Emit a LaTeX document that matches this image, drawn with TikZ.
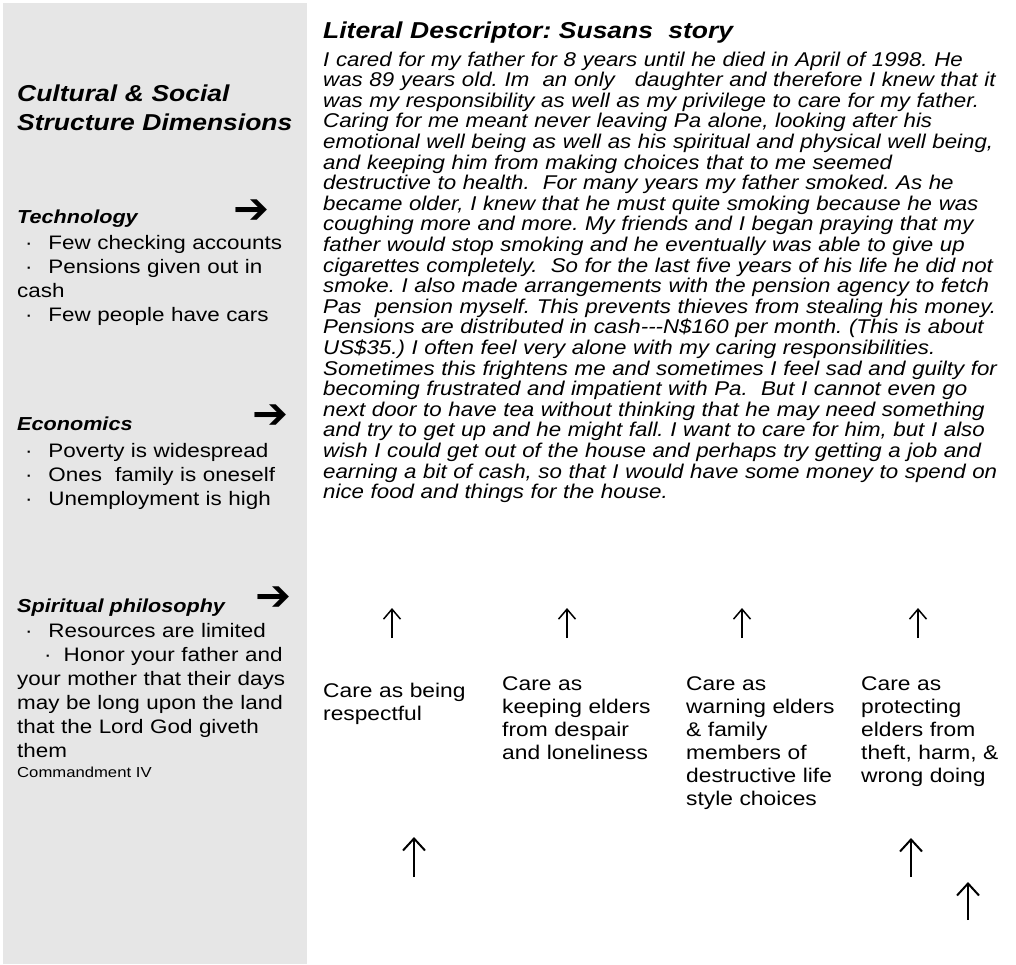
\documentclass[tikz,border=0pt]{standalone}
\usepackage{fontspec}
\setmainfont[FakeStretch=1.15]{Liberation Sans}
\newfontfamily\storyfont[FakeStretch=1.12]{Liberation Sans}
\newfontfamily\arrowfont{DejaVu Sans}
\usetikzlibrary{arrows.meta}
\definecolor{panelgray}{HTML}{E6E6E6}
\frenchspacing
\tikzset{
  paneltitle/.style={anchor=base west,inner sep=0pt,align=left,text width=420pt,
    font=\bfseries\itshape\fontsize{23}{29}\selectfont},
  dimhead/.style={anchor=base west,inner sep=0pt,
    font=\bfseries\itshape\fontsize{18.8}{22}\selectfont},
  dimlist/.style={anchor=base west,inner sep=0pt,align=left,text width=290pt,
    font=\fontsize{19.5}{24}\selectfont},
  storytext/.style={anchor=base west,inner sep=0pt,align=left,text width=700pt,
    font=\storyfont\itshape\fontsize{19.9}{20.6}\selectfont},
  carelabel/.style={anchor=base west,inner sep=0pt,align=left,text width=170pt,
    font=\fontsize{19.8}{23}\selectfont},
  bigarrow/.style={inner sep=0pt,font=\arrowfont\bfseries\fontsize{43}{43}\selectfont},
  uparrow/.style={-{Straight Barb[length=10pt,width=17pt]},line width=1.5pt}
}
\newcommand{\dimitem}{\hspace*{8pt}·\hspace*{15.8pt}}

\begin{document}
\begin{tikzpicture}[x=1pt,y=-1pt]
  \useasboundingbox (0,0) rectangle (1016,964);
  \fill[panelgray] (3,3) rectangle (307,964);

  % left panel
  \node[paneltitle] (dimtitle) at (17,101) {Cultural \& Social\\Structure Dimensions};

  \node[dimhead] (tech) at (17,223) {Technology};
  \node[bigarrow] (techarrow) at (252,212) {➔};
  \node[dimlist] (techlist) at (17,249)
    {\dimitem Few checking accounts\\
     \dimitem Pensions given out in\\
     cash\\
     \dimitem Few people have cars};

  \node[dimhead] (econ) at (17,430) {Economics};
  \node[bigarrow] (econarrow) at (271,417) {➔};
  \node[dimlist] (econlist) at (17,457)
    {\dimitem Poverty is widespread\\
     \dimitem Ones~ family is oneself\\
     \dimitem Unemployment is high};

  \node[dimhead] (spirit) at (17,612) {Spiritual philosophy};
  \node[bigarrow] (spiritarrow) at (274,599) {➔};
  \node[dimlist] (spiritlist) at (17,637)
    {\dimitem Resources are limited\\
     \hspace*{27pt}·\hspace*{12pt}Honor your father and\\
     your mother that their days\\
     may be long upon the land\\
     that the Lord God giveth\\
     them};
  \node[dimlist,font=\fontsize{14.5}{17}\selectfont] (commandment) at (17,777) {Commandment IV};

  % story
  \node[paneltitle] (storytitle) at (323,38) {Literal Descriptor: Susans~ story};
  \node[storytext] (story) at (323,66)
    {I cared for my father for 8 years until he died in April of 1998. He\\
     was 89 years old. Im~ an only~~ daughter and therefore I knew that it\\
     was my responsibility as well as my privilege to care for my father.\\
     Caring for me meant never leaving Pa alone, looking after his\\
     emotional well being as well as his spiritual and physical well being,\\
     and keeping him from making choices that to me seemed\\
     destructive to health.~ For many years my father smoked. As he\\
     became older, I knew that he must quite smoking because he was\\
     coughing more and more. My friends and I began praying that my\\
     father would stop smoking and he eventually was able to give up\\
     cigarettes completely.~ So for the last five years of his life he did not\\
     smoke. I also made arrangements with the pension agency to fetch\\
     Pas~ pension myself. This prevents thieves from stealing his money.\\
     Pensions are distributed in cash-{}-{}-N\$160 per month. (This is about\\
     US\$35.) I often feel very alone with my caring responsibilities.\\
     Sometimes this frightens me and sometimes I feel sad and guilty for\\
     becoming frustrated and impatient with Pa.~ But I cannot even go\\
     next door to have tea without thinking that he may need something\\
     and try to get up and he might fall. I want to care for him, but I also\\
     wish I could get out of the house and perhaps try getting a job and\\
     earning a bit of cash, so that I would have some money to spend on\\
     nice food and things for the house.};

  % upward arrows above the care labels
  \foreach \ax [count=\i] in {392,567,742,918} {
    \coordinate (tipT\i) at (\ax,608);
    \coordinate (tailT\i) at (\ax,638);
    \draw[uparrow] (tailT\i) -- (tipT\i);
  }

  \node[carelabel] (care1) at (323,697) {Care as being\\respectful};
  \node[carelabel] (care2) at (502,690) {Care as\\keeping elders\\from despair\\and loneliness};
  \node[carelabel] (care3) at (686,690) {Care as\\warning elders\\\& family\\members of\\destructive life\\style choices};
  \node[carelabel] (care4) at (861,690) {Care as\\protecting\\elders from\\theft, harm, \&\\wrong doing};

  % lower arrows
  \coordinate (tipB1) at (414,837);
  \coordinate (tailB1) at (414,877);
  \coordinate (tipB2) at (911,838);
  \coordinate (tailB2) at (911,877);
  \coordinate (tipB3) at (968,882);
  \coordinate (tailB3) at (968,920);
  \foreach \i in {1,2,3}
    \draw[uparrow,line width=2pt,-{Straight Barb[length=12pt,width=22pt]}] (tailB\i) -- (tipB\i);
\end{tikzpicture}
\end{document}
